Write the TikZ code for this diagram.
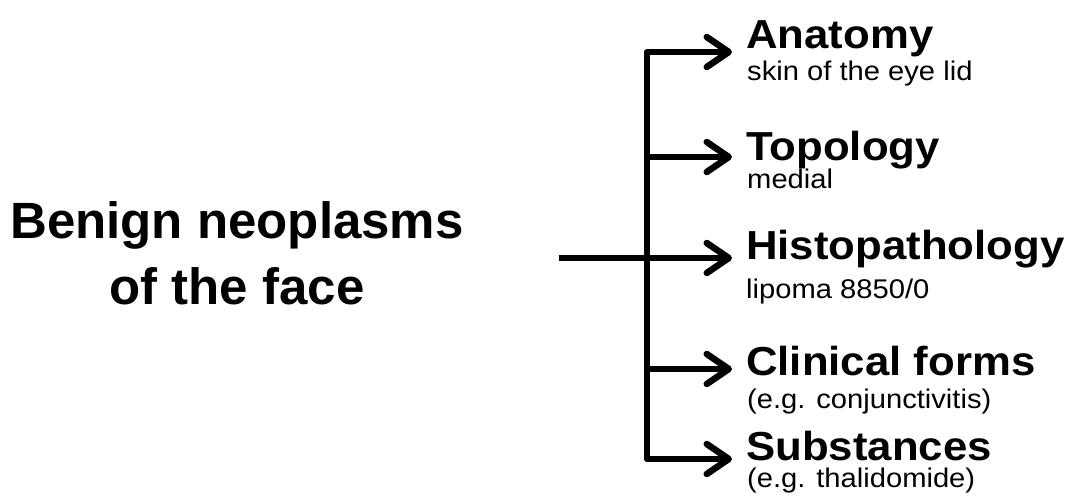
\documentclass[tikz,border=0pt]{standalone}
\usepackage{fontspec}
\setmainfont{Liberation Sans}
\usetikzlibrary{arrows.meta}
\tikzset{
  conn/.style={line width=6.5pt, line join=round, -{Straight Barb[length=22pt,width=30pt,round]}},
  mainline/.style={line width=6.5pt},
  head/.style={anchor=base west, inner sep=0pt, font=\fontsize{40.5}{44}\bfseries\selectfont},
  sub/.style={anchor=base west, inner sep=0pt, font=\fontsize{27}{30}\selectfont},
  ttl/.style={anchor=base, inner sep=0pt, font=\fontsize{51}{60}\bfseries\selectfont}
}
\newcommand{\hx}[1]{\scalebox{1.08}[1]{#1}}
\begin{document}
\begin{tikzpicture}[x=1pt,y=-1pt]
\useasboundingbox (0,0) rectangle (1070,498);
% title
\node[ttl] (t1) at (237,238) {Benign neoplasms};
\node[ttl] (t2) at (237,304) {of the face};
% branch points
\coordinate (start) at (559,258);
\coordinate (jA) at (647,52);
\coordinate (jT) at (647,157);
\coordinate (jH) at (647,258);
\coordinate (jC) at (647,369);
\coordinate (jS) at (647,459);
\coordinate (eA) at (732,52);
\coordinate (eT) at (732,157);
\coordinate (eH) at (732,258);
\coordinate (eC) at (732,369);
\coordinate (eS) at (732,459);
% headings
\node[head] (hA) at (746,48) {\hx{Anatomy}};
\node[sub]  (sA) at (747,80) {\hx{skin of the eye lid}};
\node[head] (hT) at (746,160) {\hx{Topology}};
\node[sub]  (sT) at (747,188) {\hx{medial}};
\node[head] (hH) at (746,259) {\hx{Histopathology}};
\node[sub]  (sH) at (746,298) {\hx{lipoma 8850/0}};
\node[head] (hC) at (746,375) {\hx{Clinical forms}};
\node[sub]  (sC) at (747,408) {\hx{(e.g. conjunctivitis)}};
\node[head] (hS) at (746,460) {\hx{Substances}};
\node[sub]  (sS) at (747,487) {\hx{(e.g. thalidomide)}};
% connectors
\draw[mainline] (start) -- (jH);
\draw[conn] (jS) -- (jA) -- (eA);
\draw[conn] (jA) -- (jS) -- (eS);
\draw[conn] (jT) -- (eT);
\draw[conn] (jH) -- (eH);
\draw[conn] (jC) -- (eC);
\end{tikzpicture}
\end{document}
